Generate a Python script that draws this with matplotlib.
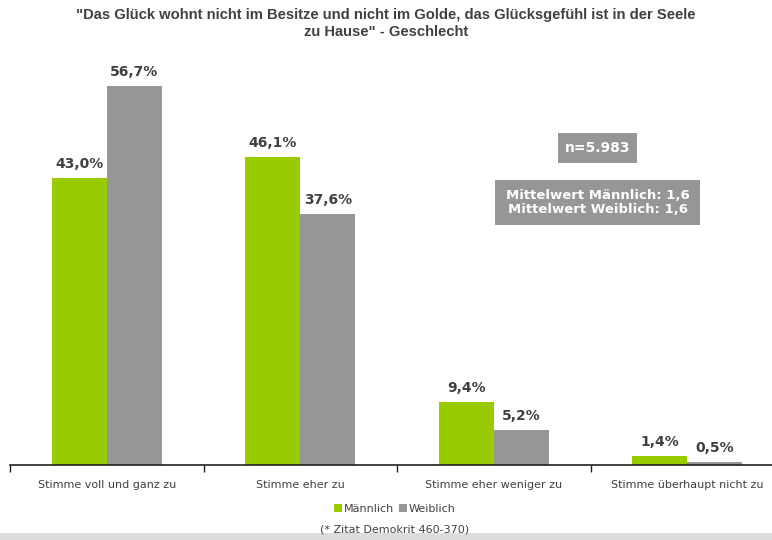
import matplotlib
matplotlib.use("Agg")
import matplotlib.pyplot as plt
from matplotlib.patches import Rectangle
import numpy as np

categories = ["Stimme voll und ganz zu", "Stimme eher zu", "Stimme eher weniger zu", "Stimme überhaupt nicht zu"]
maennlich = [43.0, 46.1, 9.4, 1.4]
weiblich = [56.7, 37.6, 5.2, 0.5]
series_names = ["Männlich", "Weiblich"]
title = "\"Das Glück wohnt nicht im Besitze und nicht im Golde, das Glücksgefühl ist in der Seele\nzu Hause\" - Geschlecht"
n_text = "n=5.983"
mean_text = "Mittelwert Männlich: 1,6\nMittelwert Weiblich: 1,6"
footnote = "(* Zitat Demokrit 460-370)"

GREEN = "#99CC00"
GRAY = "#969696"
TXT = "#404040"

fig = plt.figure(figsize=(7.72, 5.40), dpi=100)
W, H = 772, 540
ax = fig.add_axes([10 / W, (540 - 465) / H, 774 / W, (465 - 64) / H])
x = np.arange(len(categories))
bw = 0.285
b1 = ax.bar(x - bw / 2, maennlich, bw, color=GREEN, label=series_names[0])
b2 = ax.bar(x + bw / 2, weiblich, bw, color=GRAY, label=series_names[1])
ax.set_ylim(0, 60)
ax.set_xlim(-0.5, 3.5)
for bars, vals in ((b1, maennlich), (b2, weiblich)):
    for r, v in zip(bars, vals):
        ax.annotate(f"{v:.1f}".replace(".", ",") + "%", (r.get_x() + r.get_width() / 2, v),
                    xytext=(0, 5), textcoords="offset points", ha="center", va="bottom",
                    fontsize=10, fontweight="bold", color=TXT, family="DejaVu Sans")
for s in ("top", "right", "left"):
    ax.spines[s].set_visible(False)
ax.spines["bottom"].set_color("#202020")
ax.spines["bottom"].set_linewidth(1.2)
ax.set_yticks([])
ax.set_xticks(np.arange(-0.5, 3.6, 1.0))
ax.set_xticklabels([])
ax.tick_params(axis="x", length=5, color="#202020", width=1)
for i, c in enumerate(categories):
    ax.text(i, -2.2, c, ha="center", va="top", fontsize=8, color=TXT, family="DejaVu Sans")

fig.text(0.5, 1 - 8 / H, title, ha="center", va="top", fontsize=10.6, fontweight="bold",
         color=TXT, family="Liberation Sans", linespacing=1.25)

# info boxes
fig.patches.append(Rectangle((558 / W, 1 - 163 / H), 79 / W, 30 / H, transform=fig.transFigure,
                             facecolor=GRAY, edgecolor="none"))
fig.text(597.5 / W, 1 - 148 / H, n_text, ha="center", va="center", color="white",
         fontsize=10, fontweight="bold", family="DejaVu Sans")
fig.patches.append(Rectangle((495 / W, 1 - 225 / H), 205 / W, 45 / H, transform=fig.transFigure,
                             facecolor=GRAY, edgecolor="none"))
fig.text(597.5 / W, 1 - 202.5 / H, mean_text, ha="center", va="center", color="white",
         fontsize=9.5, fontweight="bold", family="DejaVu Sans", linespacing=1.15)

fig.legend(handles=[b1, b2], labels=series_names, loc="center", bbox_to_anchor=(395 / W, 1 - 509 / H),
           ncol=2, frameon=False, fontsize=8, handlelength=0.7, handleheight=0.7,
           handletextpad=0.2, columnspacing=0.4, labelcolor=TXT)
fig.text(395 / W, 1 - 529 / H, footnote, ha="center", va="center", fontsize=8, color=TXT)
fig.patches.append(Rectangle((0, 0), 1, 7 / H, transform=fig.transFigure, facecolor="#DCDCDC", edgecolor="none"))

fig.savefig("out.png", dpi=100)
